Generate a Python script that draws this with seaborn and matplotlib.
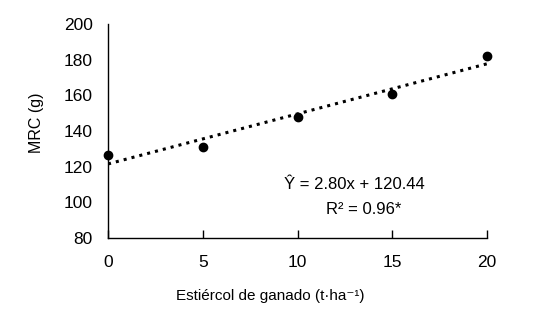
import matplotlib
matplotlib.use("Agg")
from matplotlib import pyplot as plt
from matplotlib import font_manager
import seaborn as sns
import pandas as pd
import numpy as np

estiercol = [0, 5, 10, 15, 20]
mrc = [126.5, 131, 148, 160.5, 182]
xticks = [0, 5, 10, 15, 20]
yticks = [80, 100, 120, 140, 160, 180, 200]

df = pd.DataFrame({"x": estiercol, "y": mrc})

sns.set_style("ticks")
names = {f.name for f in font_manager.fontManager.ttflist}
main = "Liberation Sans Narrow" if "Liberation Sans Narrow" in names else "Liberation Sans"
plt.rcParams['font.family'] = [main, 'DejaVu Sans']
plt.rcParams['text.color'] = "black"
plt.rcParams['axes.labelcolor'] = "black"
plt.rcParams['xtick.color'] = "black"
plt.rcParams['ytick.color'] = "black"

fig = plt.figure(figsize=(5.4, 3.16), dpi=100)
ax = fig.add_axes([0.2, 0.247, 0.702, 0.677])

sns.regplot(data=df, x="x", y="y", ax=ax, ci=None, color="black",
            scatter_kws={"s": 36, "alpha": 1, "clip_on": False, "zorder": 3},
            line_kws={"linestyle": ":", "linewidth": 2.2})

ax.set_xlim(0, 20)
ax.set_ylim(80, 200)
ax.set_xticks(xticks)
ax.set_yticks(yticks)
ax.tick_params(axis="x", direction="in", length=6, width=1, pad=12, labelsize=12.5)
ax.tick_params(axis="y", length=0, pad=11, labelsize=12.5)
for s in ["top", "right"]:
    ax.spines[s].set_visible(False)
for s in ["left", "bottom"]:
    ax.spines[s].set_linewidth(1)
    ax.spines[s].set_color("black")

ax.set_xlabel("Estiércol de ganado (t·ha⁻¹)", fontsize=11, labelpad=11)
ax.xaxis.set_label_coords(0.427, -0.24)
ax.set_ylabel("MRC (g)", fontsize=11.5, labelpad=12)
ax.yaxis.set_label_coords(-0.168, 0.54)

ax.text(13.0, 110, "Ŷ = 2.80x + 120.44", ha="center", va="center", fontsize=12)
ax.text(13.5, 96, "R² = 0.96*", ha="center", va="center", fontsize=12)

plt.savefig("out.png", dpi=100)
